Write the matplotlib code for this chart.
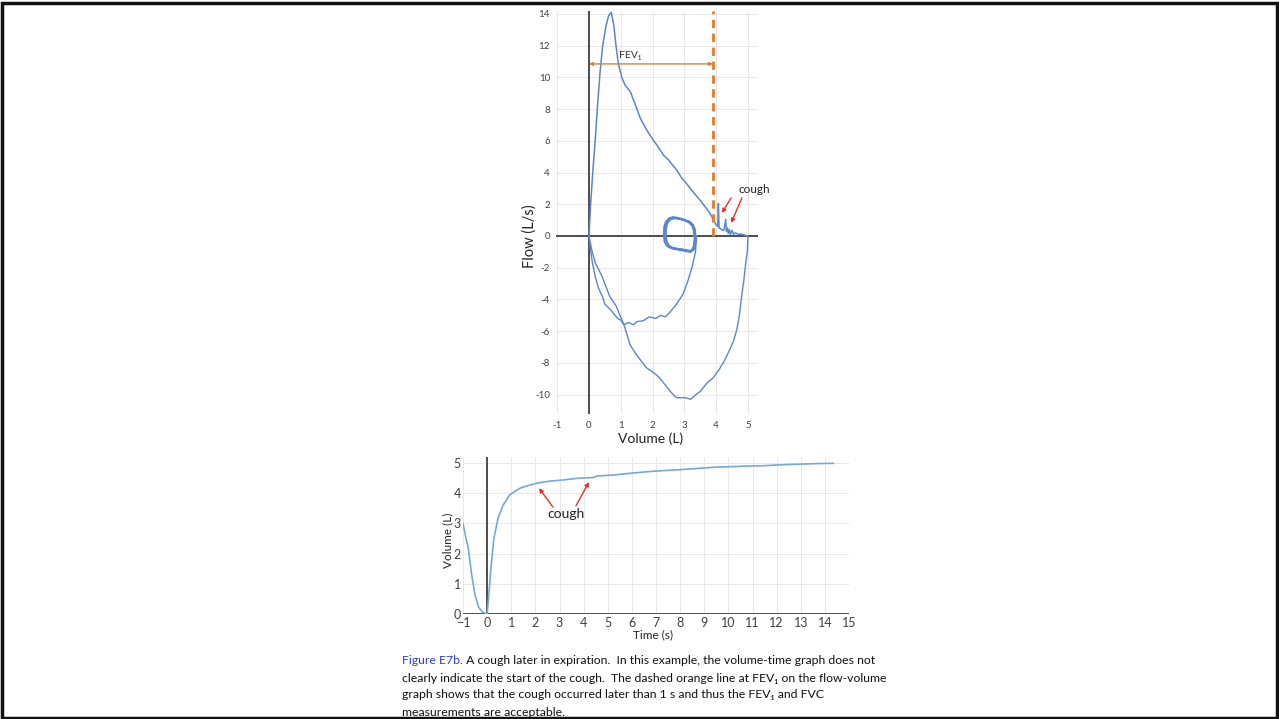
import numpy as np
import matplotlib
matplotlib.use("Agg")
import matplotlib.pyplot as plt
from matplotlib.patches import Rectangle

plt.rcParams['font.family'] = ['Lato', 'DejaVu Sans']

# flow-volume loop: tidal breathing, full inspiration, forced expiration, inspiration
tidal_vol = [3.30, 3.29, 3.24, 3.12, 2.95, 2.78, 2.62, 2.50, 2.41, 2.36, 2.35, 2.37, 2.44, 2.56, 2.72, 2.92, 3.10, 3.22, 3.29, 3.32,
             3.31, 3.26, 3.15, 2.98, 2.80, 2.64, 2.52, 2.44, 2.40, 2.39, 2.42, 2.50, 2.62, 2.78, 2.98, 3.16, 3.27, 3.33, 3.35,
             3.34, 3.28, 3.17, 3.00, 2.83, 2.67, 2.55, 2.47, 2.43, 2.42, 2.45, 2.53, 2.66, 2.82, 3.02, 3.19, 3.30, 3.36, 3.38]
tidal_flow = [0.00, 0.35, 0.65, 0.88, 1.02, 1.12, 1.15, 1.08, 0.88, 0.55, 0.10, -0.35, -0.62, -0.76, -0.80, -0.86, -0.94, -0.95, -0.65, -0.05,
              0.40, 0.70, 0.92, 1.05, 1.15, 1.20, 1.12, 0.92, 0.60, 0.15, -0.30, -0.58, -0.72, -0.80, -0.85, -0.92, -0.90, -0.55, 0.05,
              0.38, 0.68, 0.88, 1.00, 1.08, 1.10, 1.02, 0.82, 0.50, 0.05, -0.40, -0.68, -0.82, -0.88, -0.95, -1.02, -0.85, -0.45, 0.00]

insp1_vol = [3.38, 3.35, 3.25, 3.10, 2.95, 2.75, 2.55, 2.40, 2.25, 2.10, 1.90, 1.70, 1.50, 1.40, 1.25, 1.10,
             1.00, 0.90, 0.80, 0.70, 0.60, 0.50, 0.42, 0.30, 0.20, 0.10, 0.05, 0.00]
insp1_flow = [0.00, -1.00, -1.90, -2.90, -3.70, -4.30, -4.80, -5.10, -5.00, -5.20, -5.10, -5.35, -5.40, -5.60, -5.45, -5.60,
              -5.30, -5.20, -4.95, -4.70, -4.50, -4.30, -3.80, -3.30, -2.60, -1.60, -0.90, 0.00]

exp_vol = [0.00, 0.05, 0.12, 0.20, 0.27, 0.35, 0.43, 0.54, 0.62, 0.70, 0.78, 0.85, 0.93, 1.04, 1.14, 1.30,
           1.46, 1.62, 1.81, 2.02, 2.15, 2.34, 2.50, 2.62, 2.76, 2.90, 3.07, 3.20,
           3.35, 3.49, 3.65, 3.80, 3.96,
           4.00, 4.05, 4.07, 4.09, 4.15, 4.20, 4.25, 4.30, 4.32, 4.36, 4.38, 4.42, 4.45, 4.50, 4.55,
           4.60, 4.70, 4.80, 4.90, 5.00]
exp_flow = [0.00, 1.95, 4.05, 6.15, 8.26, 10.36, 12.00, 13.30, 13.90, 14.10, 13.30, 12.00, 10.80, 9.95, 9.50, 9.10,
            8.26, 7.40, 6.70, 6.05, 5.70, 5.10, 4.80, 4.50, 4.16, 3.70, 3.30, 2.95,
            2.60, 2.27, 1.85, 1.45, 0.84,
            0.70, 0.60, 2.05, 0.50, 0.45, 0.35, 0.40, 1.05, 0.30, 0.50, 0.15, 0.40, 0.10, 0.35, 0.10,
            0.20, 0.10, 0.12, 0.05, 0.00]

insp2_vol = [5.00, 4.98, 4.93, 4.87, 4.80, 4.73, 4.65, 4.55, 4.42, 4.25, 4.10, 3.90, 3.70, 3.50, 3.30, 3.20,
             3.05, 2.90, 2.75, 2.60, 2.40, 2.20, 2.02, 1.80, 1.50, 1.30, 1.10, 0.85, 0.65, 0.40, 0.20, 0.10, 0.00]
insp2_flow = [0.00, -1.00, -1.70, -2.80, -3.80, -5.00, -5.90, -6.60, -7.20, -7.90, -8.40, -8.95, -9.30, -9.80, -10.10, -10.30,
              -10.20, -10.20, -10.20, -9.90, -9.40, -8.90, -8.60, -8.30, -7.50, -6.90, -5.60, -4.40, -3.80, -2.50, -1.70, -1.00, 0.00]

fev1_volume = 3.9
fv_xticks = [-1, 0, 1, 2, 3, 4, 5]
fv_yticks = [-10, -8, -6, -4, -2, 0, 2, 4, 6, 8, 10, 12, 14]

# volume-time curve
vt_time = [-1.00, -0.90, -0.78, -0.64, -0.50, -0.36, -0.25, -0.16, -0.05, 0.00, 0.07, 0.17, 0.28, 0.45, 0.66, 0.93,
           1.34, 1.76, 2.17, 2.59, 3.16, 3.80, 4.40, 4.54, 5.20, 5.93, 6.60, 7.31, 8.00, 8.69, 9.40,
           10.07, 10.80, 11.45, 12.10, 12.83, 13.60, 14.35]
vt_volume = [3.00, 2.60, 2.17, 1.29, 0.63, 0.24, 0.12, 0.05, 0.01, 0.00, 0.63, 1.62, 2.50, 3.17, 3.60, 3.94,
             4.16, 4.27, 4.35, 4.40, 4.44, 4.50, 4.52, 4.57, 4.60, 4.66, 4.71, 4.75, 4.78, 4.82, 4.86,
             4.88, 4.90, 4.91, 4.94, 4.96, 4.98, 4.99]
vt_xticks = list(range(-1, 16))
vt_yticks = [0, 1, 2, 3, 4, 5]

caption_head = "Figure E7b."
caption_lines = [
    " A cough later in expiration.  In this example, the volume-time graph does not",
    "clearly indicate the start of the cough.  The dashed orange line at FEV\u2081 on the flow-volume",
    "graph shows that the cough occurred later than 1 s and thus the FEV\u2081 and FVC",
    "measurements are acceptable.",
]

W, H = 1279, 719
fig = plt.figure(figsize=(W / 100, H / 100), dpi=100)
fig.patch.set_facecolor('white')

def px_rect(x0, y0, x1, y1):
    return [x0 / W, 1 - y1 / H, (x1 - x0) / W, (y1 - y0) / H]

grid_c = '#e8e8e8'
axis_c = '#404040'
tick_c = '#404040'
fv_c = '#5b86cc'
vt_c = '#74a9d8'
red = '#e8302a'

# ---- flow-volume ----
ax = fig.add_axes(px_rect(555.6, 10.8, 757.5, 413.6))
ax.set_xlim(-1.05, 5.3)
ax.set_ylim(-11.2, 14.2)
for s in ax.spines.values():
    s.set_visible(False)
ax.set_xticks(fv_xticks)
ax.set_yticks(fv_yticks)
ax.grid(True, color=grid_c, lw=0.7)
ax.set_axisbelow(True)
ax.tick_params(length=0, labelsize=7, colors=tick_c, pad=5)
ax.tick_params(axis='y', pad=4)
ax.set_xticklabels([str(v) for v in fv_xticks])
ax.set_yticklabels([str(v) for v in fv_yticks])
ax.axhline(0, color=axis_c, lw=1.3, zorder=2)
ax.axvline(0, color=axis_c, lw=1.3, zorder=2)

ax.plot(tidal_vol, tidal_flow, color=fv_c, lw=1.2, zorder=3)
ax.plot(insp1_vol, insp1_flow, color=fv_c, lw=1.0, zorder=3)
ax.plot(exp_vol, exp_flow, color=fv_c, lw=1.1, zorder=3)
ax.plot(insp2_vol, insp2_flow, color=fv_c, lw=1.0, zorder=3)

ax.plot([fev1_volume, fev1_volume], [0, 14.2], color='#e07b2a', lw=2.0, ls=(0, (3, 2)), zorder=4)
ax.annotate('', xy=(0, 10.85), xytext=(fev1_volume, 10.85),
            arrowprops=dict(arrowstyle='<|-|>', color='#c8864a', lw=1.0, mutation_scale=5,
                            shrinkA=0, shrinkB=0), zorder=4)
ax.text(1.3, 11.4, 'FEV\u2081', fontsize=7.5, color='#333333', ha='center', va='center')

ax.text(5.2, 2.6, 'cough', fontsize=8.5, color='#222222', ha='center', va='bottom')
ax.annotate('', xy=(4.18, 1.45), xytext=(4.47, 2.4),
            arrowprops=dict(arrowstyle='-|>', color=red, lw=1.0, mutation_scale=6, shrinkA=0, shrinkB=0))
ax.annotate('', xy=(4.47, 0.82), xytext=(4.81, 2.4),
            arrowprops=dict(arrowstyle='-|>', color=red, lw=1.0, mutation_scale=6, shrinkA=0, shrinkB=0))

fig.text(530 / W, 1 - 236 / H, 'Flow (L/s)', rotation=90, fontsize=10.5, color='#222222',
         ha='center', va='center')
fig.text(651 / W, 1 - 439 / H, 'Volume (L)', fontsize=10, color='#222222', ha='center', va='center')

# ---- volume-time ----
bx = fig.add_axes(px_rect(463, 457, 849, 614))
bx.set_xlim(-1, 15)
bx.set_ylim(0, 5.2)
for s in bx.spines.values():
    s.set_visible(False)
bx.set_xticks(vt_xticks)
bx.set_yticks(vt_yticks)
bx.grid(True, color=grid_c, lw=0.7)
bx.set_axisbelow(True)
bx.tick_params(length=0, labelsize=9, colors=tick_c, pad=2)
bx.tick_params(axis='y', pad=1.5)
bx.axhline(0, color=axis_c, lw=1.3, zorder=2)
bx.axvline(0, color=axis_c, lw=1.3, zorder=2)
bx.plot(vt_time, vt_volume, color=vt_c, lw=1.2, zorder=3)

bx.text(3.27, 3.31, 'cough', fontsize=10, color='#222222', ha='center', va='center')
bx.annotate('', xy=(2.15, 4.17), xytext=(2.73, 3.54),
            arrowprops=dict(arrowstyle='-|>', color=red, lw=1.0, mutation_scale=6, shrinkA=0, shrinkB=0))
bx.annotate('', xy=(4.22, 4.37), xytext=(3.68, 3.58),
            arrowprops=dict(arrowstyle='-|>', color=red, lw=1.0, mutation_scale=6, shrinkA=0, shrinkB=0))

fig.text(448 / W, 1 - 540 / H, 'Volume (L)', rotation=90, fontsize=8.5, color='#222222',
         ha='center', va='center')
fig.text(653 / W, 1 - 635 / H, 'Time (s)', fontsize=8.5, color='#222222', ha='center', va='center')

# ---- caption ----
cap_x = 402 / W
cap_fs = 8.8
head = fig.text(cap_x, 1 - 661 / H, caption_head, fontsize=cap_fs, color='#2a3fd0', va='center')
fig.canvas.draw()
bb = head.get_window_extent()
fig.text(bb.x1 / W, 1 - 661 / H, caption_lines[0], fontsize=cap_fs, color='#111111', va='center')
for i, line in enumerate(caption_lines[1:]):
    fig.text(cap_x, 1 - (678 + 17 * i) / H, line, fontsize=cap_fs, color='#111111', va='center')

# page frame
fig.add_artist(Rectangle((1.5 / W, 1.5 / H), (W - 3.5) / W, (H - 4) / H, transform=fig.transFigure,
                         fill=False, edgecolor='#111111', lw=2.5))

fig.savefig('out.png', dpi=100, facecolor='white')
